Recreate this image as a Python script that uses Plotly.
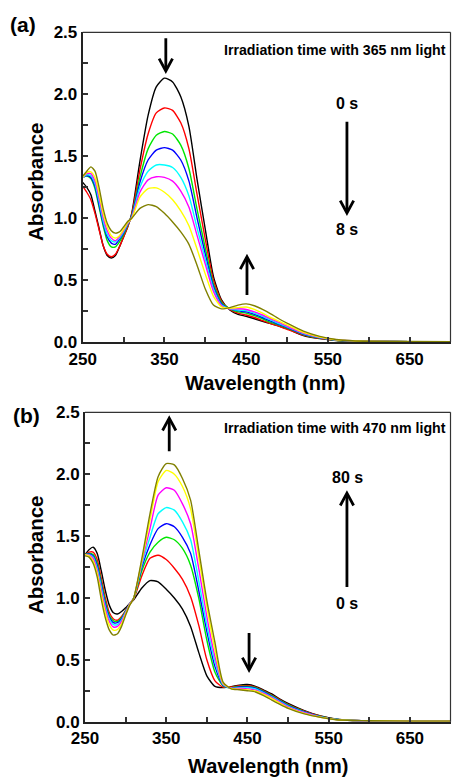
import plotly.graph_objects as go

# ---------------- data ----------------
wavelength = [250, 255, 260, 265, 270, 275, 280, 285, 290, 295, 300, 305, 310, 320, 330, 340, 350,
              360, 370, 380, 390, 400, 410, 420, 430, 440, 450, 460, 470, 480, 490, 500, 520, 540,
              560, 580, 600, 650, 700]

colors = ["#000000", "#FF0000", "#00E600", "#0000FF", "#00FFFF", "#FF00FF", "#FFFF00", "#808000"]

# (a) irradiation with 365 nm light, 0 s -> 8 s
a_black = [1.29, 1.25, 1.19, 1.06, 0.92, 0.78, 0.70, 0.68, 0.70, 0.77, 0.85, 0.93, 1.04, 1.46, 1.83, 2.06, 2.13,
           2.10, 1.98, 1.74, 1.31, 0.91, 0.53, 0.34, 0.26, 0.225, 0.21, 0.19, 0.17, 0.15, 0.13, 0.11, 0.055, 0.03,
           0.015, 0.01, 0.008, 0.005, 0.005]
a_red = [1.26, 1.21, 1.15, 1.04, 0.91, 0.78, 0.71, 0.69, 0.71, 0.77, 0.85, 0.93, 1.03, 1.39, 1.68, 1.85, 1.89,
         1.87, 1.77, 1.56, 1.19, 0.83, 0.50, 0.33, 0.265, 0.235, 0.22, 0.20, 0.175, 0.15, 0.13, 0.105, 0.058, 0.032,
         0.016, 0.01, 0.008, 0.005, 0.005]
a_green = [1.33, 1.34, 1.32, 1.24, 1.09, 0.94, 0.82, 0.77, 0.77, 0.81, 0.87, 0.945, 1.02, 1.33, 1.56, 1.67, 1.70,
           1.68, 1.59, 1.40, 1.07, 0.76, 0.47, 0.32, 0.27, 0.245, 0.235, 0.215, 0.19, 0.16, 0.14, 0.115, 0.063, 0.035,
           0.017, 0.011, 0.008, 0.005, 0.005]
a_blue = [1.33, 1.345, 1.33, 1.26, 1.11, 0.96, 0.85, 0.80, 0.79, 0.83, 0.88, 0.95, 1.015, 1.29, 1.47, 1.55, 1.57,
          1.55, 1.47, 1.30, 1.00, 0.71, 0.45, 0.31, 0.27, 0.255, 0.245, 0.225, 0.20, 0.17, 0.145, 0.12, 0.066, 0.036,
          0.018, 0.011, 0.008, 0.005, 0.005]
a_cyan = [1.33, 1.35, 1.345, 1.28, 1.14, 0.98, 0.87, 0.82, 0.81, 0.84, 0.89, 0.955, 1.01, 1.25, 1.38, 1.43, 1.43,
          1.41, 1.33, 1.18, 0.92, 0.67, 0.43, 0.30, 0.27, 0.26, 0.255, 0.235, 0.21, 0.18, 0.15, 0.125, 0.07, 0.038,
          0.019, 0.012, 0.008, 0.005, 0.005]
a_magenta = [1.33, 1.36, 1.36, 1.30, 1.17, 1.01, 0.90, 0.84, 0.82, 0.85, 0.90, 0.96, 1.005, 1.21, 1.31, 1.335, 1.33,
             1.30, 1.22, 1.09, 0.86, 0.63, 0.41, 0.295, 0.27, 0.27, 0.265, 0.245, 0.22, 0.19, 0.16, 0.13, 0.074, 0.04,
             0.02, 0.012, 0.008, 0.005, 0.005]
a_yellow = [1.33, 1.37, 1.375, 1.33, 1.20, 1.04, 0.93, 0.86, 0.84, 0.86, 0.91, 0.965, 1.00, 1.17, 1.24, 1.245, 1.21,
            1.15, 1.06, 0.94, 0.75, 0.55, 0.37, 0.285, 0.275, 0.28, 0.285, 0.265, 0.235, 0.20, 0.17, 0.14, 0.08, 0.043,
            0.021, 0.012, 0.008, 0.005, 0.005]
a_olive = [1.34, 1.38, 1.415, 1.38, 1.25, 1.08, 0.96, 0.90, 0.88, 0.89, 0.93, 0.975, 1.00, 1.08, 1.11, 1.095, 1.04,
           0.97, 0.89, 0.79, 0.62, 0.43, 0.30, 0.27, 0.28, 0.30, 0.31, 0.295, 0.265, 0.23, 0.19, 0.155, 0.09, 0.048,
           0.023, 0.013, 0.009, 0.006, 0.005]

# (b) irradiation with 470 nm light, 0 s -> 80 s
b_black = [1.35, 1.39, 1.41, 1.36, 1.22, 1.06, 0.94, 0.88, 0.87, 0.89, 0.92, 0.955, 0.985, 1.08, 1.14, 1.13, 1.07,
           1.00, 0.91, 0.77, 0.56, 0.37, 0.285, 0.275, 0.283, 0.296, 0.30, 0.285, 0.256, 0.224, 0.183, 0.148, 0.09,
           0.046, 0.02, 0.01, 0.008, 0.005, 0.005]
b_red = [1.35, 1.37, 1.37, 1.31, 1.16, 1.00, 0.88, 0.83, 0.82, 0.85, 0.90, 0.95, 0.99, 1.18, 1.32, 1.345, 1.31,
         1.24, 1.15, 1.01, 0.78, 0.50, 0.33, 0.28, 0.28, 0.29, 0.29, 0.28, 0.25, 0.215, 0.177, 0.14, 0.085, 0.044,
         0.019, 0.01, 0.008, 0.005, 0.005]
b_green = [1.35, 1.36, 1.35, 1.28, 1.13, 0.97, 0.86, 0.815, 0.81, 0.84, 0.895, 0.95, 0.995, 1.22, 1.37, 1.45, 1.49,
           1.47, 1.40, 1.265, 1.00, 0.66, 0.40, 0.29, 0.275, 0.285, 0.285, 0.275, 0.245, 0.21, 0.172, 0.135, 0.082,
           0.042, 0.019, 0.01, 0.008, 0.005, 0.005]
b_blue = [1.35, 1.355, 1.34, 1.26, 1.11, 0.95, 0.845, 0.80, 0.80, 0.83, 0.89, 0.95, 1.00, 1.25, 1.43, 1.56, 1.60,
          1.575, 1.49, 1.36, 1.06, 0.73, 0.445, 0.295, 0.273, 0.28, 0.28, 0.27, 0.24, 0.205, 0.168, 0.13, 0.079,
          0.04, 0.018, 0.01, 0.008, 0.005, 0.005]
b_cyan = [1.35, 1.35, 1.33, 1.24, 1.09, 0.93, 0.83, 0.785, 0.785, 0.82, 0.885, 0.95, 1.00, 1.27, 1.49, 1.68, 1.73,
          1.71, 1.615, 1.47, 1.14, 0.78, 0.485, 0.30, 0.272, 0.275, 0.275, 0.265, 0.235, 0.20, 0.163, 0.126, 0.076,
          0.039, 0.018, 0.01, 0.008, 0.005, 0.005]
b_magenta = [1.35, 1.345, 1.32, 1.22, 1.06, 0.91, 0.81, 0.765, 0.77, 0.81, 0.88, 0.95, 1.00, 1.29, 1.56, 1.83, 1.89,
             1.87, 1.76, 1.60, 1.24, 0.85, 0.525, 0.305, 0.27, 0.27, 0.265, 0.255, 0.228, 0.194, 0.157, 0.12, 0.072,
             0.037, 0.017, 0.01, 0.008, 0.005, 0.005]
b_yellow = [1.35, 1.34, 1.30, 1.20, 1.03, 0.88, 0.78, 0.74, 0.745, 0.79, 0.87, 0.945, 1.00, 1.30, 1.63, 1.94, 2.03,
            2.00, 1.90, 1.72, 1.33, 0.93, 0.58, 0.31, 0.268, 0.262, 0.257, 0.248, 0.22, 0.187, 0.15, 0.113, 0.067,
            0.036, 0.016, 0.01, 0.008, 0.005, 0.005]
b_olive = [1.34, 1.33, 1.28, 1.17, 0.99, 0.84, 0.74, 0.70, 0.71, 0.77, 0.86, 0.94, 1.00, 1.32, 1.68, 1.98, 2.085,
           2.075, 1.965, 1.79, 1.39, 0.98, 0.64, 0.32, 0.265, 0.258, 0.25, 0.24, 0.21, 0.175, 0.14, 0.108, 0.063,
           0.035, 0.016, 0.01, 0.008, 0.005, 0.005]

series_a = [a_black, a_red, a_green, a_blue, a_cyan, a_magenta, a_yellow, a_olive]
series_b = [b_black, b_red, b_green, b_blue, b_cyan, b_magenta, b_yellow, b_olive]

x_ticks = [250, 350, 450, 550, 650]
y_ticks = [0.0, 0.5, 1.0, 1.5, 2.0, 2.5]
y_labels = ["0.0", "0.5", "1.0", "1.5", "2.0", "2.5"]

# ---------------- figure ----------------
W, H = 453, 777
FONT = "Liberation Sans, Arial, sans-serif"

fig = go.Figure()
for vals, c in zip(series_a, colors):
    fig.add_trace(go.Scatter(x=wavelength, y=vals, mode="lines",
                             line=dict(color=c, width=1.4, shape="spline", smoothing=0.6),
                             xaxis="x", yaxis="y", showlegend=False, hoverinfo="skip"))
for vals, c in zip(series_b, colors):
    fig.add_trace(go.Scatter(x=wavelength, y=vals, mode="lines",
                             line=dict(color=c, width=1.4, shape="spline", smoothing=0.6),
                             xaxis="x2", yaxis="y2", showlegend=False, hoverinfo="skip"))


def xax(domain, anchor):
    return dict(domain=domain, anchor=anchor, range=[250, 700], tickvals=x_ticks, automargin=False,
                ticks="inside", ticklen=5, tickwidth=1.5, tickcolor="#333",
                minor=dict(tickvals=[300, 400, 500, 600, 700], ticks="inside", ticklen=5, tickwidth=1.5,
                           tickcolor="#333"),
                showline=True, linewidth=2, linecolor="#222", showgrid=False, zeroline=False,
                tickfont=dict(family=FONT, size=17, color="black", weight="bold"))


def yax(domain, anchor):
    return dict(domain=domain, anchor=anchor, range=[0, 2.5], tickvals=y_ticks, ticktext=y_labels,
                automargin=False,
                ticks="inside", ticklen=5, tickwidth=1.5, tickcolor="#333",
                minor=dict(tickvals=[0.25, 0.75, 1.25, 1.75, 2.25], ticks="inside", ticklen=5, tickwidth=1.5,
                           tickcolor="#333"),
                showline=True, linewidth=2, linecolor="#222", showgrid=False, zeroline=False,
                tickfont=dict(family=FONT, size=17, color="black", weight="bold"))


fig.update_layout(
    width=W, height=H, margin=dict(l=0, r=0, t=0, b=0, autoexpand=False),
    paper_bgcolor="white", plot_bgcolor="white",
    xaxis=xax([82.7 / W, 450.5 / W], "y"),
    yaxis=yax([1 - 342.3 / H, 1 - 32.3 / H], "x"),
    xaxis2=xax([85 / W, 450.5 / W], "y2"),
    yaxis2=yax([1 - 721.7 / H, 1 - 412.3 / H], "x2"),
)

shapes = []
for xr, yr in (("x", "y"), ("x2", "y2")):
    shapes.append(dict(type="line", xref=f"{xr} domain", yref=f"{yr} domain", x0=0, x1=1, y0=1, y1=1,
                       line=dict(color="#333", width=1.2)))
    shapes.append(dict(type="line", xref=f"{xr} domain", yref=f"{yr} domain", x0=1, x1=1, y0=0, y1=1,
                       line=dict(color="#333", width=1.2)))


def arrow(xr, yr, x, y_tail, y_tip):
    s = 1 if y_tip > y_tail else -1
    shapes.append(dict(type="line", xref=xr, yref=yr, x0=x, x1=x, y0=y_tail, y1=y_tip - s * 0.01,
                       line=dict(color="black", width=2.8)))
    shapes.append(dict(type="path", xref=xr, yref=yr,
                       path=f"M {x - 8.2},{y_tip - s * 0.1} L {x},{y_tip} L {x + 8.2},{y_tip - s * 0.1}",
                       line=dict(color="black", width=2.8)))


arrow("x", "y", 351.7, 2.452, 2.188)
arrow("x", "y", 451.0, 0.381, 0.690)
arrow("x", "y", 573.3, 1.779, 1.043)
arrow("x2", "y2", 353.7, 2.186, 2.453)
arrow("x2", "y2", 452.0, 0.716, 0.418)
arrow("x2", "y2", 572.5, 1.088, 1.847)
fig.update_layout(shapes=shapes)


def txt(text, px, py, size, xanchor="center", angle=0):
    return dict(text=text, x=px / W, y=1 - py / H, xref="paper", yref="paper", showarrow=False,
                xanchor=xanchor, yanchor="middle", textangle=angle,
                font=dict(family=FONT, size=size, color="black", weight="bold"))


fig.update_layout(annotations=[
    txt("(a)", 23, 25, 21),
    txt("(b)", 26, 415, 21),
    txt("Irradiation time with 365 nm light", 448, 50, 14.2, "right"),
    txt("Irradiation time with 470 nm light", 448, 428, 14.2, "right"),
    txt("0 s", 347, 103, 16),
    txt("8 s", 347, 230, 16),
    txt("80 s", 347, 477, 16),
    txt("0 s", 347, 603, 16),
    txt("Wavelength (nm)", 265, 383, 20),
    txt("Wavelength (nm)", 268, 766, 20),
    txt("Absorbance", 35, 182, 20.5, angle=-90),
    txt("Absorbance", 35, 555, 20.5, angle=-90),
])

fig.write_html("out.html", config={"displayModeBar": False},
               post_script="document.body.style.margin='0';document.body.style.overflow='hidden';")
